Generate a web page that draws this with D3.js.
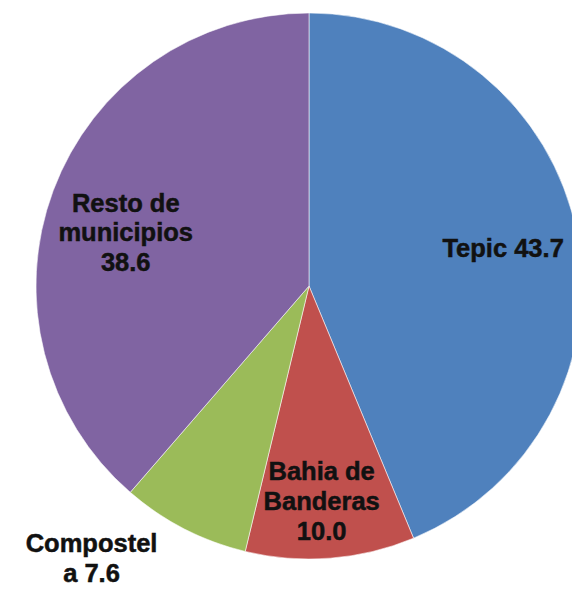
<!DOCTYPE html>
<html>
<head>
<meta charset="utf-8">
<script src="https://cdn.jsdelivr.net/npm/d3@7"></script>
<style>
  html, body { margin: 0; padding: 0; background: #ffffff; }
  svg { display: block; }
</style>
</head>
<body>
<svg id="chart" width="572" height="590"></svg>
<script>
// ---- data ----
const categories = ["Tepic", "Bahia de Banderas", "Compostela", "Resto de municipios"];
const values = [43.7, 10.0, 7.6, 38.6];
const labelLines = [
  ["Tepic 43.7"],
  ["Bahia de", "Banderas", "10.0"],
  ["Compostel", "a 7.6"],
  ["Resto de", "municipios", "38.6"]
];
const colors = ["#4F81BD", "#C0504D", "#9BBB59", "#8064A2"];

// ---- layout ----
const W = 572, H = 590;
const cx = 309, cy = 286, R = 273;
const fontSize = 25.5;
// label placement: radial factor of R, angle nudge (radians), line height
const labelPlacement = [
  { k: 0.725, da: 0, lh: 29 },
  { k: 0.79, da: 0.02, lh: 30 },
  { k: 1.275, da: 0.20, lh: 29.4 },
  { k: 0.70, da: -0.07, lh: 29.4 }
];

const svg = d3.select("#chart");
const g = svg.append("g").attr("transform", `translate(${cx},${cy})`);

const data = categories.map((c, i) => ({ name: c, value: values[i], i }));
const pie = d3.pie().value(d => d.value).sort(null);
const arcs = pie(data);
const arc = d3.arc().innerRadius(0).outerRadius(R);

g.selectAll("path.slice")
  .data(arcs)
  .join("path")
  .attr("class", "slice")
  .attr("d", arc)
  .attr("fill", d => colors[d.data.i])
  .attr("stroke", "rgba(255,255,255,0.55)")
  .attr("stroke-width", 1);

g.selectAll("text.lbl")
  .data(arcs)
  .join("text")
  .attr("class", "lbl")
  .attr("text-anchor", "middle")
  .attr("font-family", "Liberation Sans, Arial, sans-serif")
  .attr("font-weight", "bold")
  .attr("font-size", fontSize)
  .attr("fill", "#111111")
  .attr("stroke", "#111111")
  .attr("stroke-width", 0.5)
  .each(function(d) {
    const p = labelPlacement[d.data.i];
    const a = (d.startAngle + d.endAngle) / 2 + p.da;
    const r = R * p.k;
    const x = Math.sin(a) * r;
    const y = -Math.cos(a) * r;
    const lines = labelLines[d.data.i];
    const n = lines.length;
    const sel = d3.select(this);
    lines.forEach((ln, j) => {
      sel.append("tspan")
        .attr("x", x)
        .attr("y", y + (j - (n - 1) / 2) * p.lh + fontSize * 0.36)
        .text(ln);
    });
  });
</script>
</body>
</html>
